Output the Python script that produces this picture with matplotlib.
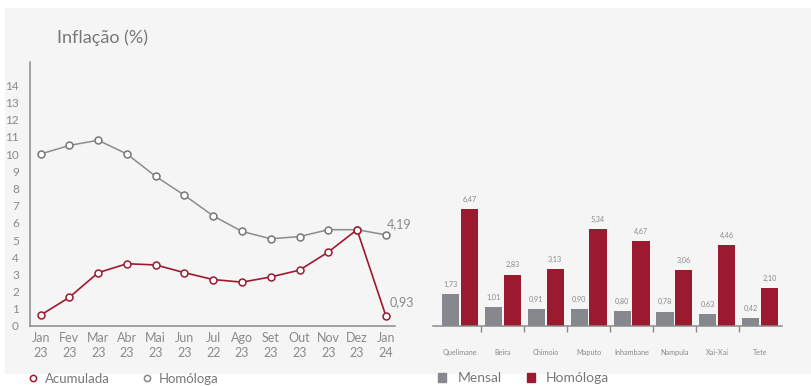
import matplotlib.pyplot as plt
import matplotlib.patches as mpatches
from matplotlib.lines import Line2D

plt.rcParams['font.family'] = ['Lato', 'DejaVu Sans']

# left chart data
meses = ['Jan\n23', 'Fev\n23', 'Mar\n23', 'Abr\n23', 'Mai\n23', 'Jun\n23', 'Jul\n22',
         'Ago\n23', 'Set\n23', 'Out\n23', 'Nov\n23', 'Dez\n23', 'Jan\n24']
acumulada = [0.63, 1.67, 3.1, 3.62, 3.55, 3.1, 2.7, 2.55, 2.85, 3.25, 4.3, 5.6, 0.6]
homologa = [10.0, 10.5, 10.8, 10.0, 8.7, 7.6, 6.4, 5.5, 5.07, 5.2, 5.6, 5.6, 5.3]
rotulos_fim = ['4,19', '0,93']

# right chart data
cidades = ['Quelimane', 'Beira', 'Chimoio', 'Maputo', 'Inhambane', 'Nampula', 'Xai-Xai', 'Tete']
mensal = [1.73, 1.01, 0.91, 0.90, 0.80, 0.78, 0.63, 0.42]
homologa_prov = [6.47, 2.83, 3.13, 5.34, 4.67, 3.06, 4.46, 2.10]

red = '#9b1a30'
gray_line = '#8c8c8c'
gray_bar = '#86888d'
txt = '#8a8a8a'

fig = plt.figure(figsize=(8.12, 3.86), dpi=100)
fig.patch.set_facecolor('white')
# light gray panel behind everything
fig.patches.append(mpatches.Rectangle((5/812, 13/386), 1, 365/386, transform=fig.transFigure,
                                      color='#f5f5f5', zorder=-10))

fig.text(57/812, 1 - 38/386, 'Inflação (%)', fontsize=13, color='#777777', va='center')

# ---- line chart
ax = fig.add_axes([30/812, 1 - 326/386, 365/812, 264/386])
ax.set_facecolor('none')
x = list(range(len(meses)))
ax.plot(x, homologa, color=gray_line, lw=1.1, marker='o', ms=5, mfc='white', mec='#777777', mew=1.1)
ax.plot(x, acumulada, color=red, lw=1.2, marker='o', ms=5, mfc='white', mec=red, mew=1.1)
ax.text(x[-1] + 0.05, homologa[-1] + 0.3, rotulos_fim[0], fontsize=9, color=txt, ha='left', va='bottom')
ax.text(x[-1] + 0.12, acumulada[-1] + 0.45, rotulos_fim[1], fontsize=9, color=txt, ha='left', va='bottom')
ax.set_xlim(-0.37, 12.32)
ax.set_ylim(0, 15.35)
ax.set_yticks(range(0, 15))
ax.set_xticks(x)
ax.set_xticklabels(meses, fontsize=9, color=txt, linespacing=1.35)
ax.tick_params(axis='y', length=0, pad=8, labelsize=8.5, labelcolor=txt)
ax.tick_params(axis='x', length=0, pad=4)
for s in ['top', 'right']:
    ax.spines[s].set_visible(False)
for s in ['left', 'bottom']:
    ax.spines[s].set_color('#8a8a8a')
    ax.spines[s].set_linewidth(1.1)

fig.legend(handles=[Line2D([], [], color='none', marker='o', ms=4.5, mfc='white', mec=red, mew=1.1, label='Acumulada'),
                    Line2D([], [], color='none', marker='o', ms=4.5, mfc='white', mec='#888888', mew=1.1, label='Homóloga')],
           loc='center left', bbox_to_anchor=(25/812, 1 - 379/386), ncol=2, frameon=False,
           fontsize=9.5, labelcolor='#777777', handletextpad=0.3, columnspacing=2.2, handlelength=1.2,
           borderpad=0, borderaxespad=0)

# ---- bar chart
bx = fig.add_axes([433/812, 1 - 325.7/386, 349/812, 135.3/386])
bx.set_facecolor('none')
pos = list(range(len(cidades)))
w = 0.4
b1 = bx.bar([p - 0.22 for p in pos], mensal, w, color=gray_bar)
b2 = bx.bar([p + 0.22 for p in pos], homologa_prov, w, color=red)
for bars, vals in [(b1, mensal), (b2, homologa_prov)]:
    for r, v in zip(bars, vals):
        bx.text(r.get_x() + r.get_width()/2, v + 0.35, f'{v:.2f}'.replace('.', ','),
                ha='center', va='bottom', fontsize=5.2, color=txt)
bx.set_xlim(-0.63, 7.51)
bx.set_ylim(0, 7.5)
bx.set_yticks([])
bx.set_xticks(pos)
bx.set_xticklabels(cidades, fontsize=5.2, color=txt)
bx.set_xticks([p + 0.5 for p in pos[:-1]], minor=True)
bx.tick_params(axis='x', which='major', length=0, pad=17)
bx.tick_params(axis='x', which='minor', length=4, width=1, color='#8a8a8a')
for s in ['top', 'right', 'left']:
    bx.spines[s].set_visible(False)
bx.spines['bottom'].set_color('#8a8a8a')
bx.spines['bottom'].set_linewidth(1.1)

fig.legend(handles=[mpatches.Patch(color=gray_bar, label='Mensal'),
                    mpatches.Patch(color=red, label='Homóloga')],
           loc='center left', bbox_to_anchor=(438/812, 1 - 378/386), ncol=2, frameon=False,
           fontsize=10, labelcolor='#777777', handletextpad=0.8, columnspacing=1.8,
           handlelength=0.6, handleheight=0.6, borderpad=0, borderaxespad=0)

fig.savefig('out.png', dpi=100, facecolor=fig.get_facecolor())
